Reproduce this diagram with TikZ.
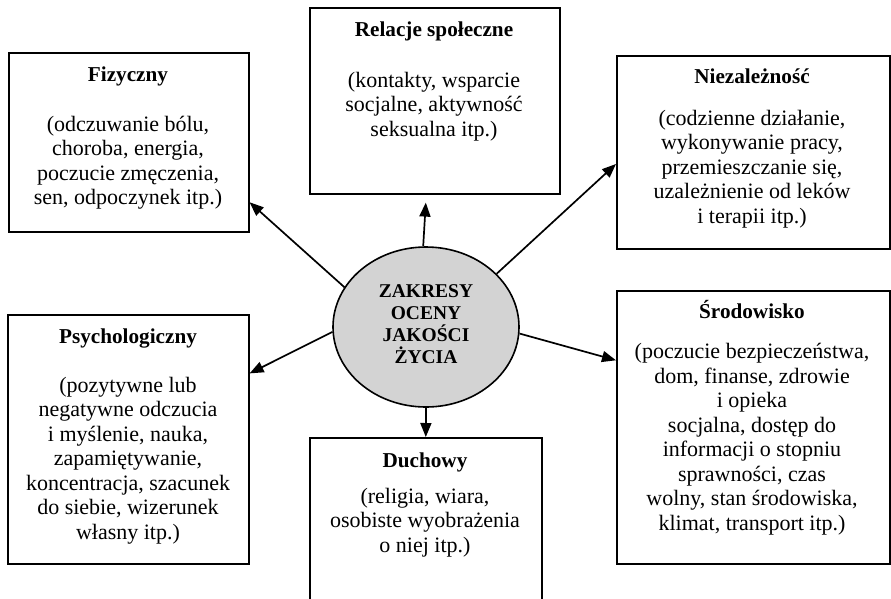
\documentclass[tikz,border=0pt]{standalone}
\usepackage{fontspec}
\setmainfont{Liberation Serif}
\usetikzlibrary{arrows.meta,shapes.geometric,calc}
\definecolor{ellgray}{HTML}{D3D3D3}
\begin{document}
\begin{tikzpicture}[x=1pt,y=-1pt,
  box/.style={draw=black, line width=1.6pt, rectangle, anchor=north west, inner sep=0pt},
  ttl/.style={anchor=base, inner sep=0pt, font=\fontsize{21.2}{24}\selectfont\bfseries},
  txt/.style={anchor=base, align=center, inner sep=0pt, font=\fontsize{22}{24.5}\selectfont},
  arr/.style={line width=1.7pt, -{Triangle[length=14pt,width=11pt]}}]
\clip (0,0) rectangle (891,598);
\fill[white] (0,0) rectangle (891,598);

% boxes
\node[box, minimum width=240pt, minimum height=179pt] (fiz) at (8,52) {};
\node[box, minimum width=250pt, minimum height=186pt] (rel) at (309,7) {};
\node[box, minimum width=273pt, minimum height=193pt] (nie) at (616,55) {};
\node[box, minimum width=241pt, minimum height=249pt] (psy) at (7,314) {};
\node[box, minimum width=232pt, minimum height=200pt] (duc) at (309,437) {};
\node[box, minimum width=273pt, minimum height=273pt] (sro) at (616,290) {};

% centre
\node[ellipse, draw=black, line width=1.6pt, fill=ellgray, minimum width=186pt, minimum height=160pt, inner sep=0pt] (ell) at (426,327) {};
\node[anchor=base, align=center, inner sep=0pt, font=\fontsize{19.5}{22}\selectfont\bfseries] (ellt) at (426,363) {ZAKRESY\\OCENY\\JAKOŚCI\\ŻYCIA};

% texts (anchor base = baseline of the last line)
\node[ttl] (fizt) at (128,81) {Fizyczny};
\node[txt] (fizb) at (128,204.5) {(odczuwanie bólu,\\choroba, energia,\\poczucie zmęczenia,\\sen, odpoczynek itp.)};

\node[ttl] (relt) at (434,36) {Relacje społeczne};
\node[txt] (relb) at (434,136) {(kontakty, wsparcie\\socjalne, aktywność\\seksualna itp.)};

\node[ttl] (niet) at (752,83) {Niezależność};
\node[txt] (nieb) at (752,223) {(codzienne działanie,\\wykonywanie pracy,\\przemieszczanie się,\\uzależnienie od leków\\i terapii itp.)};

\node[ttl] (psyt) at (128,343) {Psychologiczny};
\node[txt] (psyb) at (128,539) {(pozytywne lub\\negatywne odczucia\\i myślenie, nauka,\\zapamiętywanie,\\koncentracja, szacunek\\do siebie, wizerunek\\własny itp.)};

\node[ttl] (duct) at (425,467) {Duchowy};
\node[txt] (ducb) at (425,552) {(religia, wiara,\\osobiste wyobrażenia\\o niej itp.)};

\node[ttl] (srot) at (752,318) {Środowisko};
\node[txt] (srob) at (752,530) {(poczucie bezpieczeństwa,\\dom, finanse, zdrowie\\i opieka\\socjalna, dostęp do\\informacji o stopniu\\sprawności, czas\\wolny, stan środowiska,\\klimat, transport itp.)};

% arrows
\draw[arr] (ell.154.6) -- ($(fiz.north east)!0.832!(fiz.south east)$);
\draw[arr] (ell.92) -- ($(rel.south)+(-9,8)$);
\draw[arr] (ell.37.3) -- ($(nie.north west)!0.56!(nie.south west)$);
\draw[arr] (ell.183.7) -- ($(psy.north east)!0.237!(psy.south east)$);
\draw[arr] (ell.356.3) -- ($(sro.north west)!0.256!(sro.south west)$);
\draw[arr] (ell.south) -- (duc.north);
\end{tikzpicture}
\end{document}
